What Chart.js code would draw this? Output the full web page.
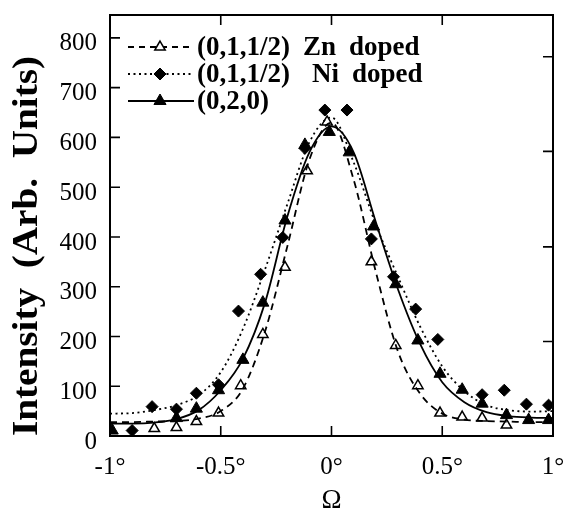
<!DOCTYPE html>
<html>
<head>
<meta charset="utf-8">
<script src="https://cdn.jsdelivr.net/npm/chart.js@4/dist/chart.umd.min.js"></script>
<style>
  html, body { margin: 0; padding: 0; background: #fff; }
  #wrap { width: 563px; height: 514px; position: relative; }
</style>
</head>
<body>
<div id="wrap"><canvas id="myChart" width="563" height="514"></canvas></div>
<script>
// measured points (Omega in degrees, intensity)
const znX = [-0.8, -0.7, -0.61, -0.51, -0.41, -0.31, -0.21, -0.11, -0.02, 0.18, 0.29, 0.39, 0.49, 0.59, 0.68, 0.79];
const znY = [15, 17, 29, 46, 101, 204, 339, 533, 631, 350, 182, 101, 46, 38, 36, 22];

const niX = [-0.9, -0.81, -0.7, -0.61, -0.51, -0.42, -0.32, -0.22, -0.12, -0.03, 0.07, 0.18, 0.28, 0.38, 0.48, 0.68, 0.78, 0.88, 0.98];
const niY = [11, 59, 54, 86, 103, 251, 325, 399, 578, 655, 655, 396, 320, 255, 194, 83, 92, 64, 62];

const k020X = [-0.99, -0.7, -0.61, -0.51, -0.4, -0.31, -0.21, -0.12, -0.01, 0.08, 0.19, 0.29, 0.39, 0.49, 0.59, 0.68, 0.79, 0.89, 0.98];
const k020Y = [11, 36, 55, 92, 153, 268, 433, 585, 611, 570, 421, 305, 192, 125, 93, 65, 42, 32, 32];

// fitted curves
const curveX = [-1, -0.9, -0.8, -0.7, -0.6, -0.5, -0.4, -0.3, -0.2, -0.1, 0, 0.1, 0.2, 0.3, 0.4, 0.5, 0.6, 0.7, 0.8, 0.9, 1];
const znFit = [28, 28, 29, 30, 35, 50, 95, 210, 380, 555, 630, 515, 330, 170, 85, 45, 33, 30, 29, 28, 28];
const niFit = [45, 46, 52, 62, 82, 128, 215, 335, 465, 590, 640, 550, 425, 320, 220, 140, 90, 62, 52, 49, 50];
const k020Fit = [25, 25, 27, 34, 52, 92, 155, 268, 440, 570, 622, 570, 430, 295, 185, 108, 68, 48, 40, 37, 36];

const xTicks = [-1, -0.5, 0, 0.5, 1];
const xTickLabels = ['-1°', '-0.5°', '0°', '0.5°', '1°'];
const yTicks = [0, 100, 200, 300, 400, 500, 600, 700, 800];
const rightTicks = [190, 380, 572, 762];

const legendLabels = [
	['(0,1,1/2)', 'Zn', 'doped'],
	['(0,1,1/2)', 'Ni', 'doped'],
	['(0,2,0)'],
];

const SERIF = '"Liberation Serif", "Times New Roman", serif';

function pts(xs, ys) {
	return xs.map((x, i) => ({ x: x, y: ys[i] }));
}

const curveStyle = { showLine: true, pointRadius: 0, borderColor: '#000', borderWidth: 1.8, cubicInterpolationMode: 'monotone', fill: false };

const datasets = [
	Object.assign({ label: 'zn fit', data: pts(curveX, znFit), borderDash: [7, 5] }, curveStyle),
	Object.assign({ label: 'ni fit', data: pts(curveX, niFit), borderDash: [2, 3.5] }, curveStyle),
	Object.assign({ label: '020 fit', data: pts(curveX, k020Fit), borderDash: [] }, curveStyle),
	{ label: 'Zn', data: pts(znX, znY), showLine: false, pointStyle: 'triangle', pointRadius: 6, backgroundColor: '#fff', borderColor: '#000', borderWidth: 1.5 },
	{ label: 'Ni', data: pts(niX, niY), showLine: false, pointStyle: 'rectRot', pointRadius: 6, backgroundColor: '#000', borderColor: '#000', borderWidth: 1 },
	{ label: '020', data: pts(k020X, k020Y), showLine: false, pointStyle: 'triangle', pointRadius: 7, backgroundColor: '#000', borderColor: '#000', borderWidth: 1 },
];

// frame, inward ticks, y title and legend
const decor = {
	id: 'decor',
	afterDraw(chart) {
		const ctx = chart.ctx;
		const a = chart.chartArea;
		const xs = chart.scales.x;
		const ys = chart.scales.y;
		ctx.save();
		ctx.strokeStyle = '#000';
		ctx.lineWidth = 2;
		ctx.strokeRect(a.left, a.top, a.right - a.left, a.bottom - a.top);
		ctx.lineWidth = 1.6;
		ctx.beginPath();
		yTicks.forEach((v) => {
			const y = ys.getPixelForValue(v);
			ctx.moveTo(a.left, y);
			ctx.lineTo(a.left + 10, y);
		});
		rightTicks.forEach((v) => {
			const y = ys.getPixelForValue(v);
			ctx.moveTo(a.right, y);
			ctx.lineTo(a.right - 10, y);
		});
		[-0.5, 0, 0.5].forEach((v) => {
			const x = xs.getPixelForValue(v);
			ctx.moveTo(x, a.bottom);
			ctx.lineTo(x, a.bottom - 10);
			ctx.moveTo(x, a.top);
			ctx.lineTo(x, a.top + 10);
		});
		ctx.stroke();

		// y axis title
		ctx.save();
		ctx.translate(28, 246);
		ctx.rotate(-Math.PI / 2);
		ctx.scale(1.12, 1);
		ctx.font = 'bold 35px ' + SERIF;
		ctx.fillStyle = '#000';
		ctx.textAlign = 'center';
		ctx.textBaseline = 'middle';
		ctx.fillText('Intensity  (Arb.  Units)', 0, 0);
		ctx.restore();

		// legend
		const rows = [47, 74, 101];
		const dashes = [[6, 5], [2, 3.5], []];
		const marks = [datasets[3], datasets[4], datasets[5]];
		const partX = [[197, 303, 349], [197, 312, 352], [197]];
		rows.forEach((y, i) => {
			ctx.save();
			ctx.lineWidth = 1.8;
			ctx.setLineDash(dashes[i]);
			ctx.beginPath();
			ctx.moveTo(128, y);
			ctx.lineTo(194, y);
			ctx.stroke();
			ctx.restore();
			const m = marks[i];
			ctx.save();
			ctx.fillStyle = m.backgroundColor;
			ctx.strokeStyle = m.borderColor;
			ctx.lineWidth = m.borderWidth;
			Chart.helpers.drawPoint(ctx, { pointStyle: m.pointStyle, radius: m.pointRadius, rotation: 0, borderWidth: m.borderWidth }, 160, y);
			ctx.restore();
			ctx.save();
			ctx.font = 'bold 27px ' + SERIF;
			ctx.fillStyle = '#000';
			ctx.textBaseline = 'middle';
			legendLabels[i].forEach((t, j) => {
				ctx.fillText(t, partX[i][j], y + 1);
			});
			ctx.restore();
		});
		ctx.restore();
	},
};

const ctx = document.getElementById('myChart').getContext('2d');
const myChart = new Chart(ctx, {
	type: 'scatter',
	data: { datasets: datasets },
	options: {
		responsive: false,
		animation: false,
		layout: { padding: { top: 15, right: 10, left: 0, bottom: 0 } },
		plugins: { legend: { display: false }, tooltip: { enabled: false } },
		scales: {
			x: {
				type: 'linear',
				min: -1,
				max: 1,
				afterBuildTicks: (s) => { s.ticks = xTicks.map((v) => ({ value: v })); },
				afterFit: (s) => { s.height = 78; s.paddingLeft = 0; s.paddingRight = 0; },
				grid: { display: false, drawTicks: false },
				border: { display: false },
				ticks: {
					padding: 16,
					color: '#000',
					font: { family: SERIF, size: 25 },
					callback: (v) => xTickLabels[xTicks.indexOf(v)],
				},
				title: { display: true, text: 'Ω', color: '#000', font: { family: SERIF, size: 27, lineHeight: 1 }, padding: { top: 0, bottom: 0 } },
			},
			y: {
				type: 'linear',
				min: 0,
				max: 846,
				afterBuildTicks: (s) => { s.ticks = yTicks.map((v) => ({ value: v })); },
				afterFit: (s) => { s.width = 110; s.paddingTop = 0; s.paddingBottom = 0; },
				grid: { display: false, drawTicks: false },
				border: { display: false },
				ticks: {
					padding: 13,
					labelOffset: 6,
					color: '#000',
					font: { family: SERIF, size: 25 },
				},
			},
		},
	},
	plugins: [decor],
});
</script>
</body>
</html>
